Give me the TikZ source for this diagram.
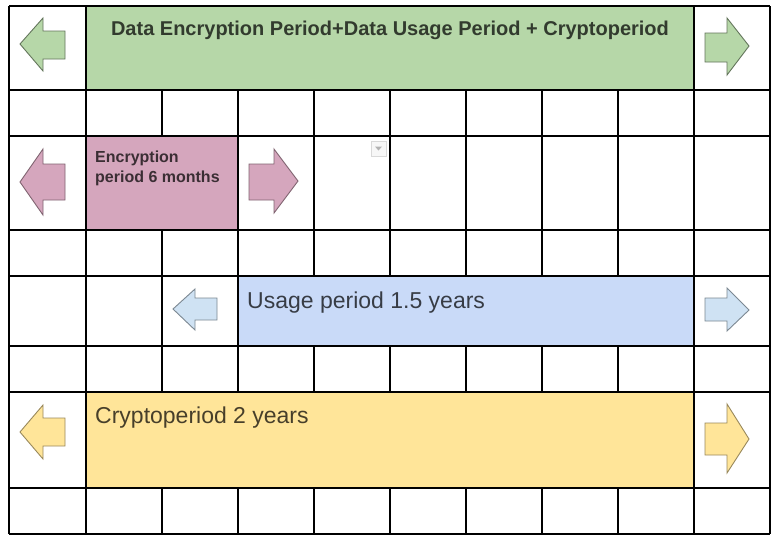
\documentclass[tikz,border=0pt]{standalone}
\usepackage{fontspec}
\setmainfont{Liberation Sans}
\usepackage{tikz}

\definecolor{cellgreen}{HTML}{B6D7A8}
\definecolor{cellpink}{HTML}{D5A6BD}
\definecolor{cellblue}{HTML}{C9DAF8}
\definecolor{cellyellow}{HTML}{FFE599}
\definecolor{arrowblue}{HTML}{CFE2F3}

\tikzset{
  grid line/.style={line width=1.1pt, black},
  cell text/.style={inner sep=0pt, text=black, text opacity=0.72},
  green arrow/.style={fill=cellgreen, draw=black!45!cellgreen, line width=0.9pt, line join=miter},
  pink arrow/.style={fill=cellpink, draw=black!40!cellpink, line width=0.9pt},
  blue arrow/.style={fill=arrowblue, draw=black!40!arrowblue, line width=0.9pt},
  yellow arrow/.style={fill=cellyellow, draw=black!40!cellyellow, line width=0.9pt}
}

\begin{document}
\begin{tikzpicture}[x=1pt,y=-1pt]

 \useasboundingbox (0,0) rectangle (779,542);
 \fill[white] (0,0) rectangle (779,542);

 % merged cells
 \fill[cellgreen] (86,6) rectangle (694,90);
 \fill[cellpink] (86,136) rectangle (238,230);
 \fill[cellblue] (238,276) rectangle (694,346);
 \fill[cellyellow] (86,392) rectangle (694,488);

 % grid
 \foreach \y in {6,90,136,230,276,346,392,488,534}
   \draw[grid line] (9,\y) -- (770,\y);
 \foreach \x in {9,86,162,238,314,390,466,542,618,694,770}{
   \draw[grid line] (\x,90) -- (\x,136);
   \draw[grid line] (\x,230) -- (\x,276);
   \draw[grid line] (\x,346) -- (\x,392);
   \draw[grid line] (\x,488) -- (\x,534);
 }
 \foreach \x in {9,86,694,770}{
   \draw[grid line] (\x,6) -- (\x,90);
   \draw[grid line] (\x,392) -- (\x,488);
 }
 \foreach \x in {9,86,238,314,390,466,542,618,694,770}
   \draw[grid line] (\x,136) -- (\x,230);
 \foreach \x in {9,86,162,238,694,770}
   \draw[grid line] (\x,276) -- (\x,346);

 % dropdown mark
 \draw[black!15, fill=black!3, line width=0.8pt] (371,141) rectangle (386,156);
 \fill[black!30] (375,146.5) -- (382,146.5) -- (378.5,150.5) -- cycle;

 % arrows
 \draw[green arrow] (20,44) -- (43,18) -- (43,31) -- (65,31) -- (65,59) -- (43,59) -- (43,71) -- cycle;
 \draw[green arrow] (705,33) -- (727,33) -- (727,18) -- (749,46) -- (727,75) -- (727,62) -- (705,62) -- cycle;

 \draw[pink arrow] (20,182) -- (43,149) -- (43,164) -- (65,164) -- (65,200) -- (43,200) -- (43,215) -- cycle;
 \draw[pink arrow] (249,164) -- (274,164) -- (274,149) -- (298,181) -- (274,213) -- (274,200) -- (249,200) -- cycle;

 \draw[blue arrow] (173,309) -- (195,289) -- (195,298) -- (217,298) -- (217,320) -- (195,320) -- (195,330) -- cycle;
 \draw[blue arrow] (705,298) -- (727,298) -- (727,288) -- (749,310) -- (727,331) -- (727,321) -- (705,321) -- cycle;

 \draw[yellow arrow] (20,432) -- (43,405) -- (43,418) -- (65,418) -- (65,446) -- (43,446) -- (43,459) -- cycle;
 \draw[yellow arrow] (705,423) -- (727,423) -- (727,404) -- (749,439) -- (727,473) -- (727,455) -- (705,455) -- cycle;

 % texts
 \node[cell text, anchor=base, font=\fontsize{20}{24}\selectfont\bfseries] (total) at (390,35)
   {Data Encryption Period+Data Usage Period + Cryptoperiod};
 \node[cell text, anchor=base west, align=left, font=\fontsize{16}{20}\selectfont\bfseries] (encryption) at (95,182)
   {Encryption\\period 6 months};
 \node[cell text, anchor=base west, font=\fontsize{23}{27}\selectfont] (usage) at (247,308)
   {Usage period 1.5 years};
 \node[cell text, anchor=base west, font=\fontsize{23}{27}\selectfont] (crypto) at (95,423)
   {Cryptoperiod 2 years};

\end{tikzpicture}
\end{document}
